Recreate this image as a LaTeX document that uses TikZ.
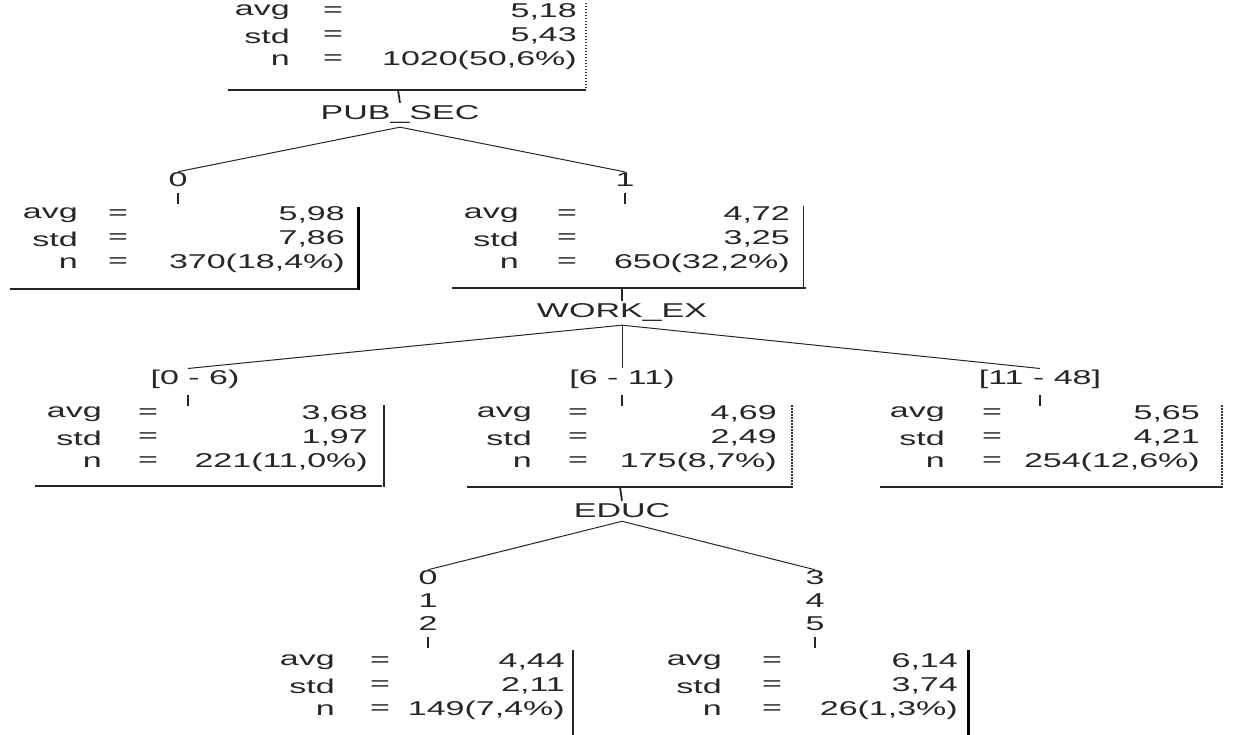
\documentclass[tikz,border=0pt]{standalone}
\usepackage{fontspec}
\setmainfont{Liberation Sans}[FakeStretch=1.7]
\begin{document}
\begin{tikzpicture}[x=1pt,y=-1pt,
  txt/.style={font=\fontsize{20}{20}\selectfont, inner sep=0pt, text=black!85},
  lbl/.style={txt, anchor=east},
  eqs/.style={txt},
  split/.style={txt, inner sep=3pt},
  branchlbl/.style={txt, inner sep=1pt},
  rule/.style={line width=1.3pt, black!85},
  conn/.style={line width=1pt, black!85},
  tick/.style={line width=1.8pt, black!85},
  brkthick/.style={line width=3pt, black},
  brkmid/.style={line width=1.8pt, black!85},
  brkthin/.style={line width=1pt, black!85},
  brkdot/.style={line width=1.3pt, black!80, dash pattern=on 1.5pt off 1.5pt}]
\useasboundingbox (0,0) rectangle (1237,735);
\newcommand\statsblk[8]{%
  \node[lbl] (#1a) at (#2,#5) {avg};
  \node[eqs] (#1ae) at (#3,#5) {=};
  \node[lbl] (#1av) at (#4,#5) {#6};
  \node[lbl] (#1s) at ({#2},{#5+24}) {std};
  \node[eqs] (#1se) at ({#3},{#5+24}) {=};
  \node[lbl] (#1sv) at ({#4},{#5+24}) {#7};
  \node[lbl] (#1n) at ({#2},{#5+48}) {n};
  \node[eqs] (#1ne) at ({#3},{#5+48}) {=};
  \node[lbl] (#1nv) at ({#4},{#5+48}) {#8};
}
% ---------- root
\statsblk{R}{290}{333}{577}{12}{5,18}{5,43}{1020(50,6\%)}
\coordinate (Rbt) at (586,3); \coordinate (Rbb) at (586,89);
\draw[brkdot] (Rbt) -- (Rbb);
\coordinate (RL) at (228,90); \coordinate (RR) at (586,90);
\draw[rule] (RL) -- (RR);
\coordinate (Rt) at (398,90);
\node[split] (pub) at (400,115) {PUB\_SEC};
\draw[tick] (Rt) -- (pub.north);
% PUB_SEC branches
\node[branchlbl] (p0) at (178,180) {0};
\node[branchlbl] (p1) at (625,180) {1};
\draw[conn] (pub.south) -- (p0.north);
\draw[conn] (pub.south) -- (p1.north);
\draw[tick] ([yshift=-5pt]p0.south) -- ++(0,11);
\draw[tick] ([yshift=-5pt]p1.south) -- ++(0,11);
% ---------- level 1 left
\statsblk{A}{78}{118}{345}{215}{5,98}{7,86}{370(18,4\%)}
\coordinate (Abt) at (358,207); \coordinate (Abb) at (358,290);
\draw[brkthick] (Abt) -- (Abb);
\coordinate (AL) at (10,289); \coordinate (AR) at (358,289);
\draw[rule] (AL) -- (AR);
% ---------- level 1 right
\statsblk{B}{519}{567}{790}{215}{4,72}{3,25}{650(32,2\%)}
\coordinate (Bbt) at (803,206); \coordinate (Bbb) at (803,287);
\draw[brkthin] (Bbt) -- (Bbb);
\coordinate (BL) at (452,288); \coordinate (BR) at (806,288);
\draw[rule] (BL) -- (BR);
\coordinate (Bt) at (622,288);
\node[split] (work) at (622,313) {WORK\_EX};
\draw[tick] (Bt) -- (work.north);
% WORK_EX branches
\node[branchlbl] (w1) at (195,379) {[0 - 6)};
\node[branchlbl] (w2) at (622,379) {[6 - 11)};
\node[branchlbl] (w3) at (1040,379) {[11 - 48]};
\draw[conn] (work.south) -- ([xshift=-7pt]w1.north);
\draw[conn] (work.south) -- (w2.north);
\draw[conn] (work.south) -- (w3.north);
\draw[tick] ([yshift=-5pt,xshift=-7pt]w1.south) -- ++(0,11);
\draw[tick] ([yshift=-5pt]w2.south) -- ++(0,11);
\draw[tick] ([yshift=-5pt]w3.south) -- ++(0,11);
% ---------- level 2
\statsblk{C}{102}{148}{368}{414}{3,68}{1,97}{221(11,0\%)}
\coordinate (Cbt) at (384,405); \coordinate (Cbb) at (384,487);
\draw[brkmid] (Cbt) -- (Cbb);
\coordinate (CL) at (35,486); \coordinate (CR) at (382,486);
\draw[rule] (CL) -- (CR);

\statsblk{D}{532}{578}{777}{414}{4,69}{2,49}{175(8,7\%)}
\coordinate (Dbt) at (792,405); \coordinate (Dbb) at (792,488);
\draw[brkdot] (Dbt) -- (Dbb);
\coordinate (DL) at (467,487); \coordinate (DR) at (792,487);
\draw[rule] (DL) -- (DR);
\coordinate (Dt) at (620,487);
\node[split] (educ) at (622,511) {EDUC};
\draw[tick] (Dt) -- (educ.north);

\statsblk{E}{945}{992}{1200}{414}{5,65}{4,21}{254(12,6\%)}
\coordinate (Ebt) at (1222,405); \coordinate (Ebb) at (1222,488);
\draw[brkdot] (Ebt) -- (Ebb);
\coordinate (EL) at (880,487); \coordinate (ER) at (1222,487);
\draw[rule] (EL) -- (ER);
% EDUC branches
\node[branchlbl] (e0) at (428,578) {0};
\node[branchlbl] (e1) at (428,601) {1};
\node[branchlbl] (e2) at (428,624) {2};
\node[branchlbl] (e3) at (815,578) {3};
\node[branchlbl] (e4) at (815,601) {4};
\node[branchlbl] (e5) at (815,624) {5};
\draw[conn] (educ.south) -- (e0.north);
\draw[conn] (educ.south) -- (e3.north);
\draw[tick] ([yshift=-5pt]e2.south) -- ++(0,11);
\draw[tick] ([yshift=-5pt]e5.south) -- ++(0,11);
% ---------- level 3
\statsblk{F}{335}{380}{565}{662}{4,44}{2,11}{149(7,4\%)}
\coordinate (Fbt) at (573,650); \coordinate (Fbb) at (573,735);
\draw[brkmid] (Fbt) -- (Fbb);
\statsblk{G}{722}{772}{958}{662}{6,14}{3,74}{26(1,3\%)}
\coordinate (Gbt) at (968,650); \coordinate (Gbb) at (968,735);
\draw[brkthick] (Gbt) -- (Gbb);
\end{tikzpicture}
\end{document}
